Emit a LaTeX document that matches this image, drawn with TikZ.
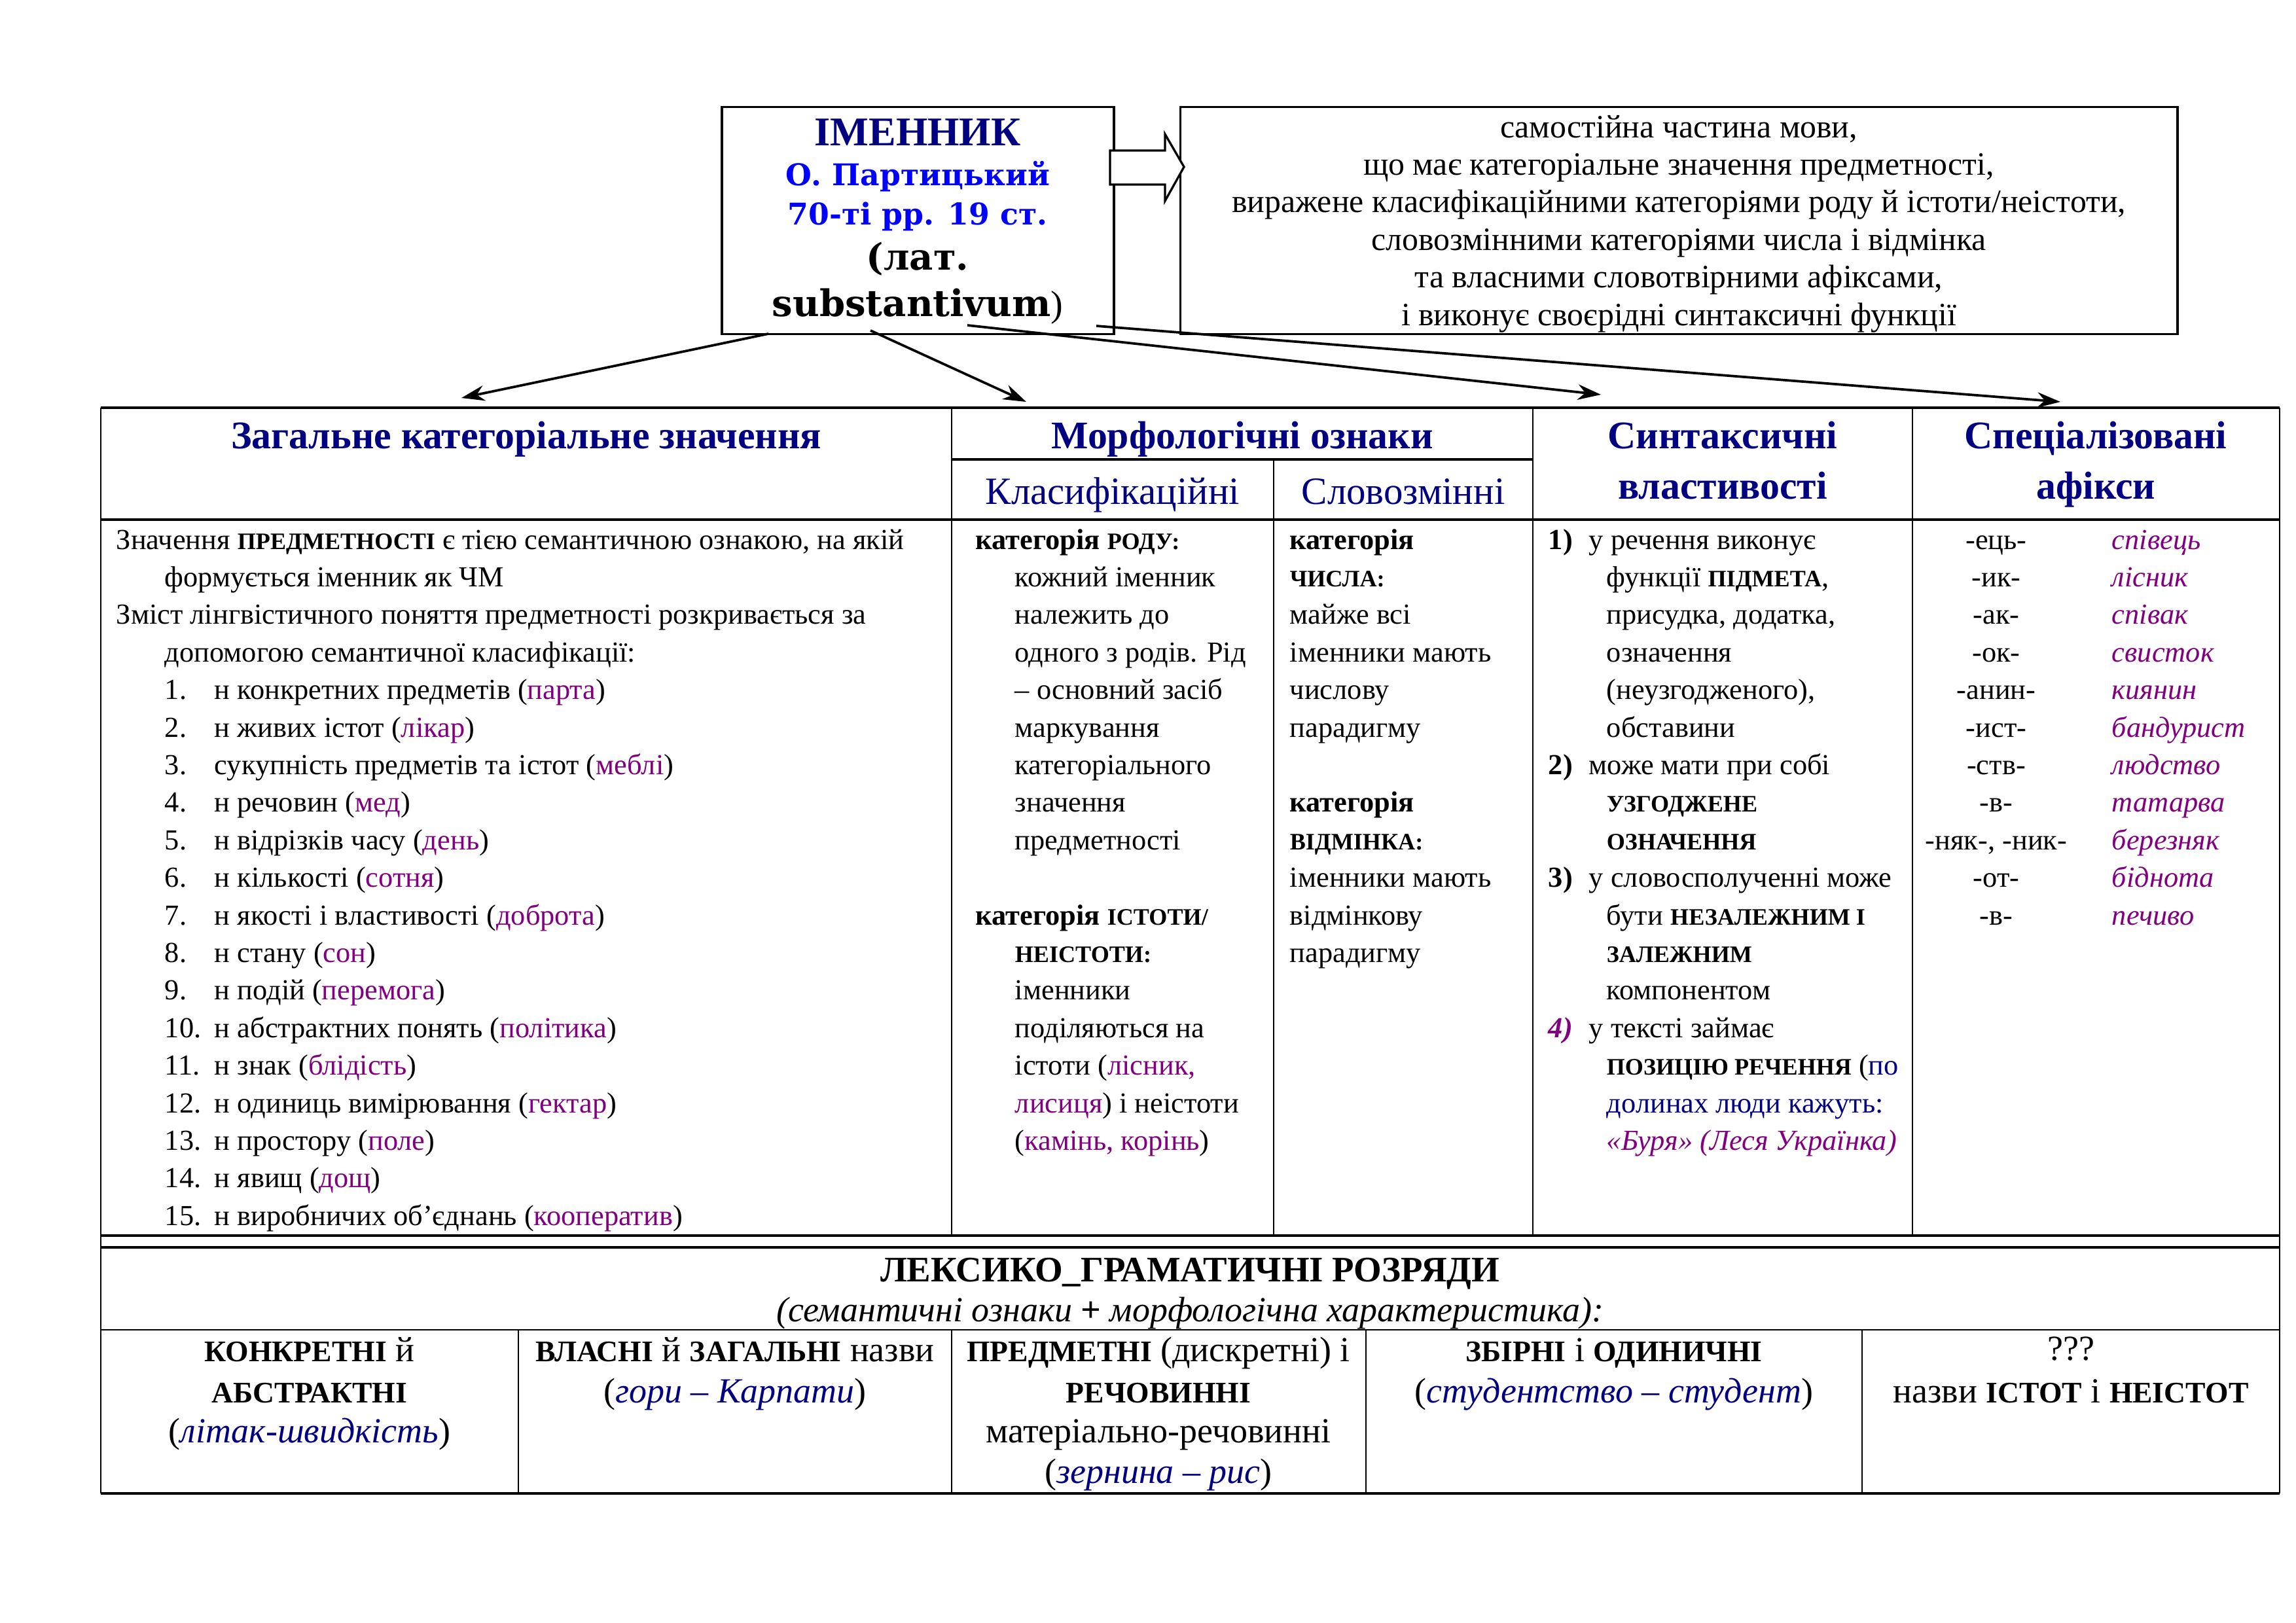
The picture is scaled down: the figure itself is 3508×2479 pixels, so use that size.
\documentclass[tikz,border=0pt]{standalone}
\usepackage{fontspec}
\setmainfont{Liberation Serif}
\newfontfamily\slabfont{DejaVu Serif}
\usetikzlibrary{arrows.meta}
\definecolor{navy}{HTML}{000080}
\definecolor{plum}{HTML}{800080}
\definecolor{bright}{HTML}{0000FF}
\newcommand\ex[1]{\textcolor{plum}{#1}}
\newcommand\kap[1]{{\fontsize{8.7}{11}\selectfont\bfseries #1}}
\newcommand\bkap[1]{{\fontsize{11}{13}\selectfont\bfseries #1}}

\begin{document}
\begin{tikzpicture}[x=0.0084664cm,y=-0.0084664cm,
  every node/.style={inner sep=0pt},
  row/.style={anchor=base west,font=\fontsize{10.7}{12}\selectfont},
  mid/.style={anchor=base,font=\fontsize{10.7}{12}\selectfont},
  cell/.style={anchor=base,font=\fontsize{13}{15}\selectfont},
  head/.style={anchor=base,font=\fontsize{14.4}{16}\selectfont\bfseries,text=navy},
  subhead/.style={anchor=base,font=\fontsize{14.2}{16}\selectfont,text=navy},
  box/.style={draw,line width=0.8pt},
  heavy/.style={line width=1.1pt},
  light/.style={line width=0.6pt},
  link/.style={-{Stealth[length=3mm,width=2mm]},line width=0.9pt}]
\useasboundingbox (0,0) rectangle (3508,2479);
\def\pitch{57.4}
\def\first{839}

% top: term and definition
\node[box,minimum width=5.071cm,minimum height=2.938cm] (noun) at (1402.5,337) {};
\node[box,minimum width=12.903cm,minimum height=2.938cm] (defn) at (2565,337) {};
\node[anchor=base,font=\fontsize{15}{17}\selectfont\bfseries,text=navy] (noun-0) at (1402,222) {ІМЕННИК};
\node[anchor=base,font=\slabfont\bfseries\fontsize{11}{13}\selectfont,text=bright] (noun-1) at (1402,283) {О. Партицький};
\node[anchor=base,font=\slabfont\bfseries\fontsize{11}{13}\selectfont,text=bright] (noun-2) at (1402,343) {70-ті рр. 19 ст.};
\node[anchor=base,font=\slabfont\bfseries\fontsize{13.5}{16}\selectfont] (noun-3) at (1402,412) {(лат.};
\node[anchor=base,font=\slabfont\bfseries\fontsize{13.5}{16}\selectfont] (noun-4) at (1402,483) {substantivum{\rmfamily\mdseries)}};
\foreach \ln [count=\i from 0] in {{самостійна частина мови,},
  {що має категоріальне значення предметності,},
  {виражене класифікаційними категоріями роду й істоти/неістоти,},
  {словозмінними категоріями числа і відмінка},
  {та власними словотвірними афіксами,},
  {і виконує своєрідні синтаксичні функції}}{
  \node[anchor=base,font=\fontsize{12}{14}\selectfont] (defn-\i) at (2565,{210+\i*\pitch}) {\ln};
}
\draw[line width=0.8pt,fill=white] (1696,230) -- (1780,230) -- (1780,205) -- (1809,255)
  -- (1780,307) -- (1780,282) -- (1696,282) -- cycle;

% arrows down to the table
\coordinate (out-1) at (1174,510);
\coordinate (out-2) at (1330,505);
\coordinate (out-3) at (1478,497);
\coordinate (out-4) at (1675,498);
\coordinate (gen-in) at (705,608);
\coordinate (morph-in) at (1568,614);
\coordinate (syn-in) at (2446,603);
\coordinate (aff-in) at (3148,614);
\draw[link] (out-1) -- (gen-in);
\draw[link] (out-2) -- (morph-in);
\draw[link] (out-3) -- (syn-in);
\draw[link] (out-4) -- (aff-in);

% table rules
\draw[heavy] (154,623) -- (3483,623);
\draw[heavy] (1454,702) -- (2342,702);
\draw[heavy] (154,794) -- (3483,794);
\draw[heavy] (154,1888) -- (3483,1888);
\draw[heavy] (154,1906) -- (3483,1906);
\draw[light] (154,2032) -- (3483,2032);
\draw[heavy] (154,2282) -- (3483,2282);
\foreach \x in {154,3483} \draw[light] (\x,623) -- (\x,2282);
\foreach \x in {1454,2342,2922} \draw[light] (\x,623) -- (\x,1888);
\draw[light] (1946,702) -- (1946,1888);
\foreach \x in {792,1454,2087,2845} \draw[light] (\x,2032) -- (\x,2282);

% headers
\node[head] (h-gen) at (804,685) {Загальне категоріальне значення};
\node[head] (h-morph) at (1898,685) {Морфологічні ознаки};
\node[subhead] (h-class) at (1700,770) {Класифікаційні};
\node[subhead] (h-infl) at (2144,770) {Словозмінні};
\node[head] (h-syn) at (2632,685) {Синтаксичні};
\node[head] (h-syn2) at (2632,762) {властивості};
\node[head] (h-aff) at (3202,685) {Спеціалізовані};
\node[head] (h-aff2) at (3202,762) {афікси};

% general meaning
\node[row] (gen-0) at (177,\first) {Значення \kap{ПРЕДМЕТНОСТІ} є тією семантичною ознакою, на якій};
\node[row] (gen-1) at (251,{\first+\pitch}) {формується іменник як ЧМ};
\node[row] (gen-2) at (177,{\first+2*\pitch}) {Зміст лінгвістичного поняття предметності розкривається за};
\node[row] (gen-3) at (251,{\first+3*\pitch}) {допомогою семантичної класифікації:};
\foreach \txt/\word [count=\n] in {н конкретних предметів/парта, н живих істот/лікар,
  сукупність предметів та істот/меблі, н речовин/мед, н відрізків часу/день,
  н кількості/сотня, н якості і властивості/доброта, н стану/сон, н подій/перемога,
  н абстрактних понять/політика, н знак/блідість, н одиниць вимірювання/гектар,
  н простору/поле, н явищ/дощ, н виробничих об’єднань/кооператив}{
  \node[row] (num-\n) at (251,{\first+(\n+3)*\pitch}) {\n.};
  \node[row] (item-\n) at (327,{\first+(\n+3)*\pitch}) {\txt\ (\ex{\word})};
}

% morphology: classifying
\foreach \i/\x/\txt in {0/1490/{\textbf{категорія} \kap{РОДУ:}}, 1/1550/кожний іменник,
  2/1550/належить до, 3/1550/одного з родів. Рід, 4/1550/– основний засіб,
  5/1550/маркування, 6/1550/категоріального, 7/1550/значення, 8/1550/предметності,
  10/1490/{\textbf{категорія} \kap{ІСТОТИ/}}, 11/1550/{\kap{НЕІСТОТИ:}},
  12/1550/іменники, 13/1550/поділяються на, 14/1550/{істоти (\ex{лісник,}},
  15/1550/{\ex{лисиця}) і неістоти}, 16/1550/{(\ex{камінь, корінь})}}{
  \node[row] (cls-\i) at (\x,{\first+\i*\pitch}) {\txt};
}

% morphology: inflecting
\foreach \i/\txt in {0/{\textbf{категорія}}, 1/{\kap{ЧИСЛА:}}, 2/майже всі,
  3/іменники мають, 4/числову, 5/парадигму, 7/{\textbf{категорія}},
  8/{\kap{ВІДМІНКА:}}, 9/іменники мають, 10/відмінкову, 11/парадигму}{
  \node[row] (inf-\i) at (1970,{\first+\i*\pitch}) {\txt};
}

% syntax
\foreach \i/\k in {0/1, 6/2, 9/3}
  \node[row] (syn-n\k) at (2365,{\first+\i*\pitch}) {\textbf{\k)}};
\node[row] (syn-n4) at (2365,{\first+13*\pitch}) {\textcolor{plum}{\bfseries\itshape 4)}};
\foreach \i/\x/\txt in {0/2427/у речення виконує, 1/2454/{функції \kap{ПІДМЕТА},},
  2/2454/{присудка, додатка,}, 3/2454/означення, 4/2454/{(неузгодженого),},
  5/2454/обставини, 6/2427/може мати при собі, 7/2454/{\kap{УЗГОДЖЕНЕ}},
  8/2454/{\kap{ОЗНАЧЕННЯ}}, 9/2427/у словосполученні може,
  10/2454/{бути \kap{НЕЗАЛЕЖНИМ І}}, 11/2454/{\kap{ЗАЛЕЖНИМ}}, 12/2454/компонентом,
  13/2427/у тексті займає, 14/2454/{\kap{ПОЗИЦІЮ РЕЧЕННЯ} (\textcolor{navy}{по}},
  15/2454/{\textcolor{navy}{долинах люди кажуть:}},
  16/2454/{\ex{\itshape «Буря» (Леся Українка)}}}{
  \node[row] (syn-\i) at (\x,{\first+\i*\pitch}) {\txt};
}

% affixes
\foreach \i/\aff/\word in {0/-ець-/співець, 1/-ик-/лісник, 2/-ак-/співак,
  3/-ок-/свисток, 4/-анин-/киянин, 5/-ист-/бандурист, 6/-ств-/людство,
  7/-в-/татарва, 8/{-няк-, -ник-}/березняк, 9/-от-/біднота, 10/-в-/печиво}{
  \node[mid] (aff-\i) at (3050,{\first+\i*\pitch}) {\aff};
  \node[row] (word-\i) at (3226,{\first+\i*\pitch}) {\ex{\itshape\word}};
}

% lexico-grammatical classes
\node[anchor=base,font=\fontsize{13.2}{15}\selectfont\bfseries] (lex) at (1818,1958) {ЛЕКСИКО\_ГРАМАТИЧНІ РОЗРЯДИ};
\node[anchor=base,font=\fontsize{13}{15}\selectfont\itshape] (lex-sub) at (1818,2019)
  {(семантичні ознаки {\upshape\bfseries +} морфологічна характеристика):};
\node[cell] (cl-1a) at (473,2080) {\bkap{КОНКРЕТНІ} й};
\node[cell] (cl-1b) at (473,2143) {\bkap{АБСТРАКТНІ}};
\node[cell] (cl-1c) at (473,2204) {(\textcolor{navy}{\itshape літак-швидкість})};
\node[cell] (cl-2a) at (1123,2080) {\bkap{ВЛАСНІ} й \bkap{ЗАГАЛЬНІ} назви};
\node[cell] (cl-2b) at (1123,2143) {(\textcolor{navy}{\itshape гори – Карпати})};
\node[cell] (cl-3a) at (1770,2080) {\bkap{ПРЕДМЕТНІ} (дискретні) і};
\node[cell] (cl-3b) at (1770,2143) {\bkap{РЕЧОВИННІ}};
\node[cell] (cl-3c) at (1770,2204) {матеріально-речовинні};
\node[cell] (cl-3d) at (1770,2266) {(\textcolor{navy}{\itshape зернина – рис})};
\node[cell] (cl-4a) at (2466,2080) {\bkap{ЗБІРНІ} і \bkap{ОДИНИЧНІ}};
\node[cell] (cl-4b) at (2466,2143) {(\textcolor{navy}{\itshape студентство – студент})};
\node[cell] (cl-5a) at (3164,2078) {???};
\node[cell] (cl-5b) at (3164,2143) {назви \bkap{ІСТОТ} і \bkap{НЕІСТОТ}};
\end{tikzpicture}
\end{document}
